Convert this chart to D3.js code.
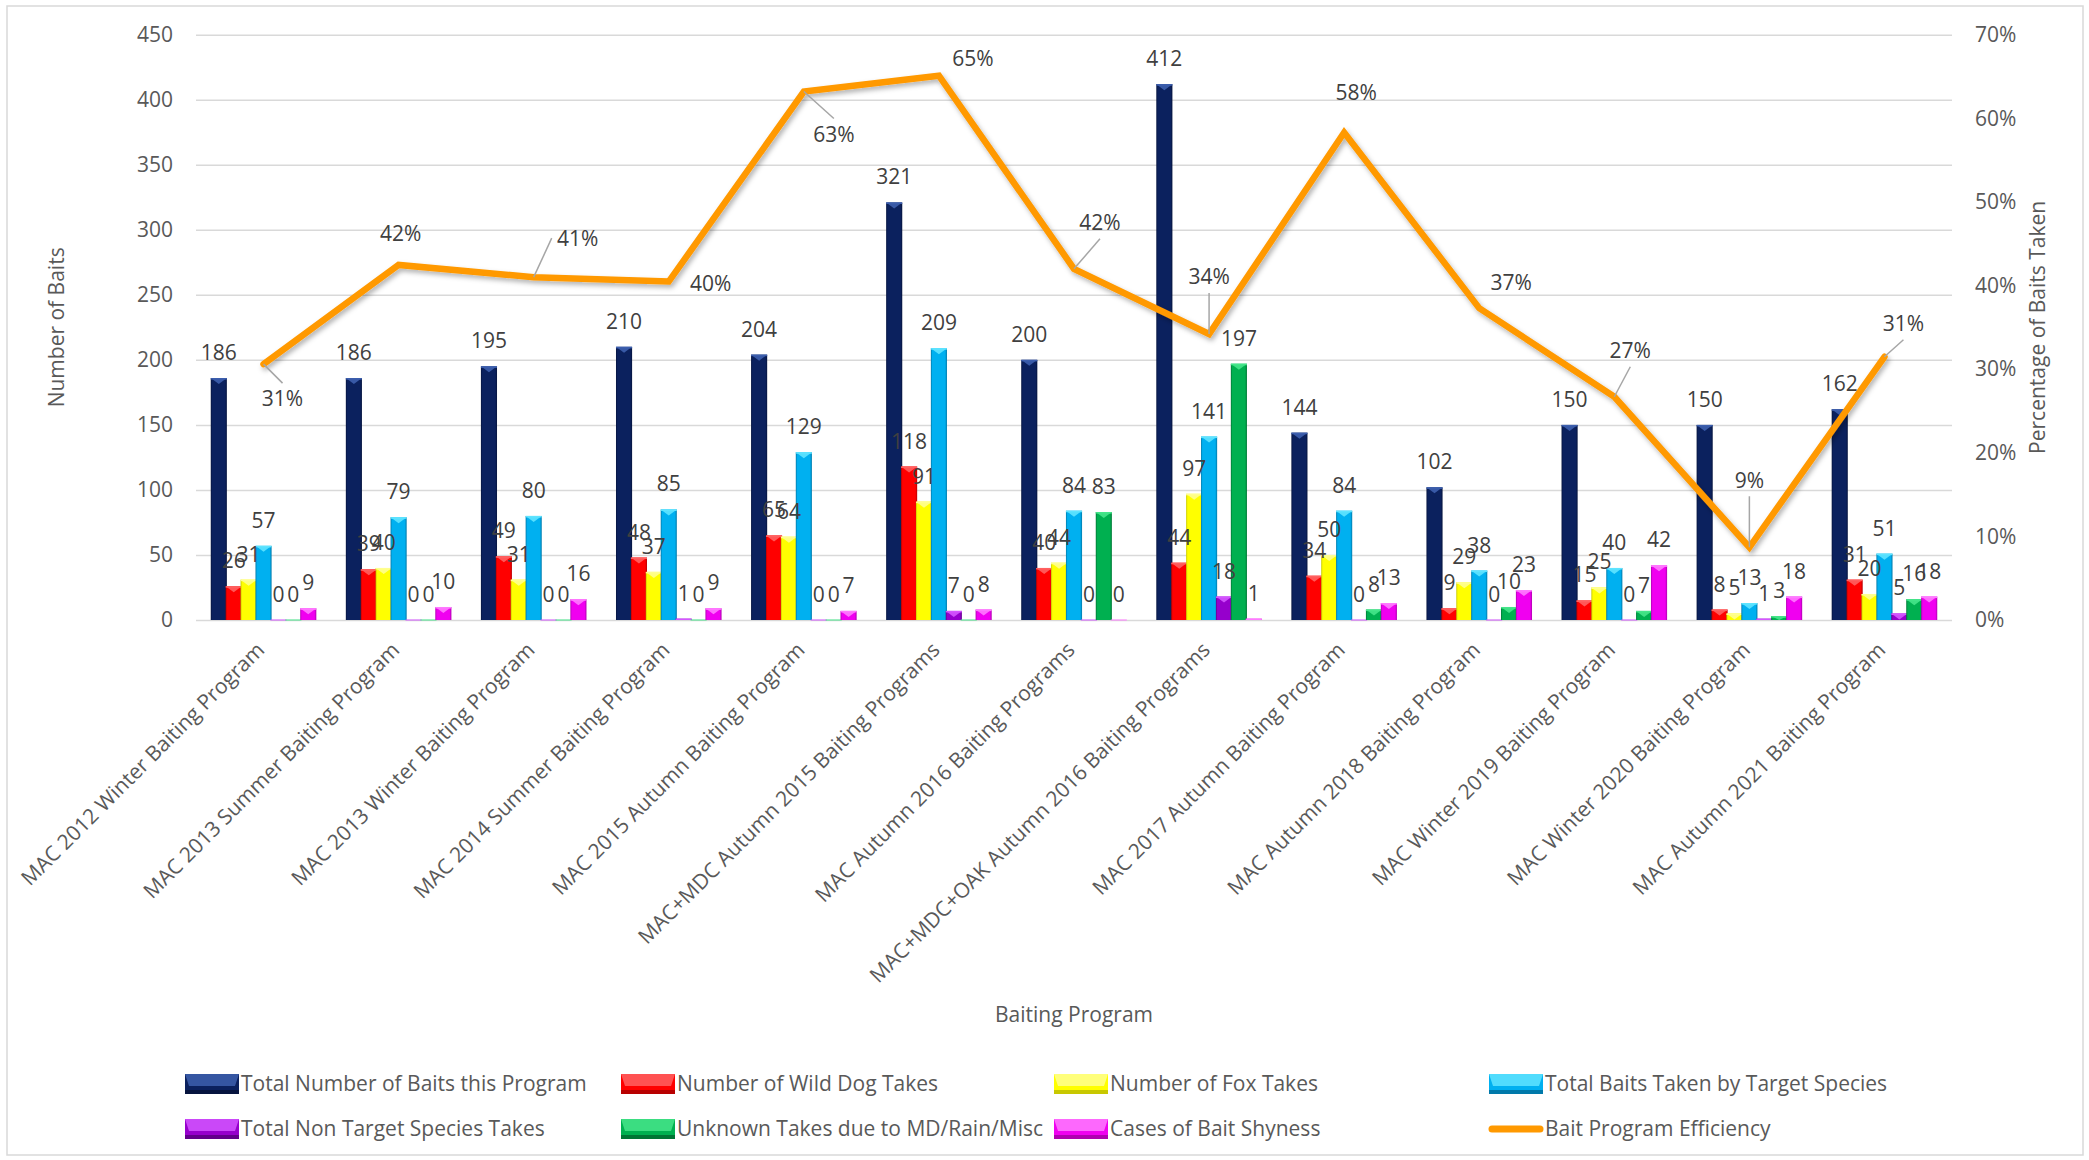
<!DOCTYPE html>
<html>
<head>
<meta charset="utf-8">
<script src="https://cdn.jsdelivr.net/npm/d3@7"></script>
<style>
  html, body { margin: 0; padding: 0; background: #ffffff; }
  svg { display: block; }
  text { font-family: "Open Sans", "Noto Sans", sans-serif; }
</style>
</head>
<body>
<svg id="chart" width="2089" height="1160"></svg>
<script>
// ---------------- DATA ----------------
const categories = [
  "MAC 2012 Winter Baiting Program",
  "MAC 2013 Summer Baiting Program",
  "MAC 2013 Winter Baiting Program",
  "MAC 2014 Summer Baiting Program",
  "MAC 2015 Autumn Baiting Program",
  "MAC+MDC Autumn 2015 Baiting Programs",
  "MAC Autumn 2016 Baiting Programs",
  "MAC+MDC+OAK Autumn 2016 Baiting Programs",
  "MAC 2017 Autumn Baiting Program",
  "MAC Autumn 2018 Baiting Program",
  "MAC Winter 2019 Baiting Program",
  "MAC Winter 2020 Baiting Program",
  "MAC Autumn 2021 Baiting Program"
];
const totalBaits   = [186, 186, 195, 210, 204, 321, 200, 412, 144, 102, 150, 150, 162];
const wildDogTakes = [26, 39, 49, 48, 65, 118, 40, 44, 34, 9, 15, 8, 31];
const foxTakes     = [31, 40, 31, 37, 64, 91, 44, 97, 50, 29, 25, 5, 20];
const targetTaken  = [57, 79, 80, 85, 129, 209, 84, 141, 84, 38, 40, 13, 51];
const nonTarget    = [0, 0, 0, 1, 0, 7, 0, 18, 0, 0, 0, 1, 5];
const unknownTakes = [0, 0, 0, 0, 0, 0, 83, 197, 8, 10, 7, 3, 16];
const baitShyness  = [9, 10, 16, 9, 7, 8, 0, 1, 13, 23, 42, 18, 18];
const efficiency   = [0.306, 0.4247, 0.410, 0.4048, 0.632, 0.651, 0.420, 0.342, 0.583, 0.373, 0.267, 0.087, 0.3148];

const seriesNames = [
  "Total Number of Baits this Program",
  "Number of Wild Dog Takes",
  "Number of Fox Takes",
  "Total Baits Taken by Target Species",
  "Total Non Target Species Takes",
  "Unknown Takes due to MD/Rain/Misc",
  "Cases of Bait Shyness"
];
const lineName = "Bait Program Efficiency";
const leftTicks  = [0, 50, 100, 150, 200, 250, 300, 350, 400, 450];
const rightTicks = [0, 0.1, 0.2, 0.3, 0.4, 0.5, 0.6, 0.7];

// ---------------- STYLE / LAYOUT ----------------
const seriesValues = [totalBaits, wildDogTakes, foxTakes, targetTaken, nonTarget, unknownTakes, baitShyness];
const seriesColors = [
  {base: "#0b215e", light: "#3d5fae", dark: "#06143e"},
  {base: "#ff0000", light: "#ff6060", dark: "#b80000"},
  {base: "#ffff00", light: "#ffff90", dark: "#c8c800"},
  {base: "#00b0f0", light: "#5fe4ff", dark: "#0079aa"},
  {base: "#9600cc", light: "#d455ff", dark: "#62008a"},
  {base: "#00b050", light: "#45e58a", dark: "#007534"},
  {base: "#f000f0", light: "#ff7aff", dark: "#b000b0"}
];
const lineColor = "#ff9900";
// label offsets (from the point) for the efficiency labels, and whether a leader line is drawn
const effLabelOffsets = [[19,35],[2,-31],[44,-39],[42,2],[30,43],[34,-17],[26,-46],[0,-57],[12,-40],[32,-25],[16,-46],[0,-67],[19,-33]];
const effLeaders = [true,false,true,false,true,false,true,true,false,false,true,true,true];

const W = 2089, H = 1160;
const plotL = 196, plotR = 1952, plotT = 34.7, plotB = 620;
const FONT = 21;

const svg = d3.select("#chart");
const defs = svg.append("defs");

// border
svg.append("rect").attr("x", 7).attr("y", 6).attr("width", 2076).attr("height", 1149)
  .attr("fill", "#ffffff").attr("stroke", "#d9d9d9").attr("stroke-width", 1.5);

// gradients
seriesColors.forEach((c, i) => {
  const g = defs.append("linearGradient").attr("id", "barg" + i).attr("x1", "0").attr("x2", "1").attr("y1", "0").attr("y2", "0");
  g.append("stop").attr("offset", "0%").attr("stop-color", c.dark);
  g.append("stop").attr("offset", "10%").attr("stop-color", c.base);
  g.append("stop").attr("offset", "40%").attr("stop-color", c.base);
  g.append("stop").attr("offset", "88%").attr("stop-color", c.base);
  g.append("stop").attr("offset", "100%").attr("stop-color", c.dark);
});
const shadow = defs.append("filter").attr("id", "lineShadow").attr("x", "-5%").attr("y", "-5%").attr("width", "110%").attr("height", "120%");
shadow.append("feDropShadow").attr("dx", 2).attr("dy", 3).attr("stdDeviation", 2.5).attr("flood-color", "#000").attr("flood-opacity", 0.3);

// scales
const x = d3.scaleBand().domain(categories).range([plotL, plotR]).paddingInner(0).paddingOuter(0);
const xs = d3.scaleBand().domain(d3.range(seriesNames.length)).range([0, x.bandwidth()]).paddingInner(0).paddingOuter(1.03);
const y = d3.scaleLinear().domain([0, 450]).range([plotB, plotT]);
const y2 = d3.scaleLinear().domain([0, 0.7]).range([plotB, plotT]);

// left axis with gridlines
const gLeft = svg.append("g").attr("transform", `translate(${plotL},0)`)
  .call(d3.axisLeft(y).tickValues(leftTicks).tickSize(-(plotR - plotL)).tickPadding(23));
gLeft.select(".domain").remove();
gLeft.selectAll(".tick line").attr("stroke", "#d9d9d9").attr("stroke-width", 1.5);
gLeft.selectAll(".tick text").attr("fill", "#595959").style("font-size", FONT + "px").style("font-family", "'Open Sans', sans-serif");

// right axis (labels only)
const gRight = svg.append("g").attr("transform", `translate(${plotR},0)`)
  .call(d3.axisRight(y2).tickValues(rightTicks).tickSize(0).tickPadding(23).tickFormat(d3.format(".0%")));
gRight.select(".domain").remove();
gRight.selectAll(".tick text").attr("fill", "#595959").style("font-size", FONT + "px").style("font-family", "'Open Sans', sans-serif");

// bars
const bw = xs.bandwidth();
const barsG = svg.append("g");
seriesValues.forEach((vals, si) => {
  const c = seriesColors[si];
  vals.forEach((v, ci) => {
    const bx = x(categories[ci]) + xs(si) - 0.6;
    const w = bw + 1.2;
    const top = y(v);
    const h = plotB - top;
    const g = barsG.append("g");
    g.append("rect").attr("x", bx).attr("y", top).attr("width", w).attr("height", Math.max(h, 0))
      .attr("fill", `url(#barg${si})`);
    if (h > 0) {
      const th = Math.min(6, h);
      g.append("polygon")
        .attr("points", `${bx},${top} ${bx + w},${top} ${bx + w / 2},${top + th}`)
        .attr("fill", c.light).attr("opacity", 0.9);
      g.append("rect").attr("x", bx).attr("y", top).attr("width", w).attr("height", Math.min(1.5, h))
        .attr("fill", c.light);
    } else {
      g.append("rect").attr("x", bx).attr("y", plotB - 1).attr("width", w).attr("height", 2)
        .attr("fill", c.light).attr("opacity", 0.5);
    }
  });
});

// bar labels
const labG = svg.append("g");
seriesValues.forEach((vals, si) => {
  vals.forEach((v, ci) => {
    labG.append("text")
      .attr("x", x(categories[ci]) + xs(si) + bw / 2)
      .attr("y", y(v) - 18)
      .attr("text-anchor", "middle")
      .attr("fill", "#404040")
      .style("font-size", FONT + "px")
      .text(v);
  });
});

// efficiency line
const cx = (i) => x(categories[i]) + x.bandwidth() / 2;
const line = d3.line().x((d, i) => cx(i)).y(d => y2(d)).curve(d3.curveLinear);
svg.append("path").datum(efficiency)
  .attr("d", line)
  .attr("fill", "none")
  .attr("stroke", lineColor)
  .attr("stroke-width", 6.5)
  .attr("stroke-linejoin", "miter")
  .attr("stroke-linecap", "round")
  .attr("filter", "url(#lineShadow)");

// efficiency labels + leaders
const effG = svg.append("g");
efficiency.forEach((v, i) => {
  const px = cx(i), py = y2(v);
  const [dx, dy] = effLabelOffsets[i];
  const lx = px + dx, ly = py + dy;
  if (effLeaders[i]) {
    let ex, ey;
    if (Math.abs(dy) > Math.abs(dx)) { ex = lx; ey = dy < 0 ? ly + 16 : ly - 16; }
    else { ex = lx - 26; ey = ly; }
    effG.append("line").attr("x1", px).attr("y1", py).attr("x2", ex).attr("y2", ey)
      .attr("stroke", "#a6a6a6").attr("stroke-width", 1.5);
  }
  effG.append("text").attr("x", lx).attr("y", ly).attr("dy", "0.35em")
    .attr("text-anchor", "middle").attr("fill", "#404040")
    .style("font-size", FONT + "px")
    .text(d3.format(".0%")(v));
});

// category labels (rotated)
const catG = svg.append("g");
categories.forEach((c, i) => {
  const ax = cx(i) - 3, ay = 646;
  catG.append("text")
    .attr("transform", `translate(${ax},${ay}) rotate(-45)`)
    .attr("text-anchor", "end")
    .attr("dy", "0.35em")
    .attr("fill", "#595959")
    .style("font-size", FONT + "px")
    .text(c);
});

// axis titles
svg.append("text").attr("transform", `translate(57,${(plotT + plotB) / 2}) rotate(-90)`)
  .attr("text-anchor", "middle").attr("dy", "0.35em").attr("fill", "#595959")
  .style("font-size", FONT + "px").text("Number of Baits");
svg.append("text").attr("transform", `translate(2038,${(plotT + plotB) / 2}) rotate(-90)`)
  .attr("text-anchor", "middle").attr("dy", "0.35em").attr("fill", "#595959")
  .style("font-size", FONT + "px").text("Percentage of Baits Taken");
svg.append("text").attr("x", 1074).attr("y", 1015).attr("dy", "0.35em")
  .attr("text-anchor", "middle").attr("fill", "#595959")
  .style("font-size", FONT + "px").text("Baiting Program");

// legend
const legendCols = [185, 621, 1054, 1489];
const legendRows = [1084, 1129];
const legendItems = seriesNames.map((n, i) => ({name: n, type: "bar", si: i})).concat([{name: lineName, type: "line"}]);
const legG = svg.append("g");
legendItems.forEach((it, k) => {
  const lx = legendCols[k % 4], ly = legendRows[Math.floor(k / 4)];
  const sw = 54, sh = 20;
  if (it.type === "bar") {
    const c = seriesColors[it.si];
    legG.append("rect").attr("x", lx).attr("y", ly - sh / 2).attr("width", sw).attr("height", sh)
      .attr("fill", c.base);
    legG.append("polygon")
      .attr("points", `${lx},${ly - sh / 2} ${lx + sw},${ly - sh / 2} ${lx + sw - 4},${ly + 2} ${lx + 4},${ly + 2}`)
      .attr("fill", c.light).attr("opacity", 0.85);
    legG.append("rect").attr("x", lx).attr("y", ly + sh / 2 - 4).attr("width", sw).attr("height", 4)
      .attr("fill", c.dark);
  } else {
    legG.append("line").attr("x1", lx + 3).attr("x2", lx + sw - 3).attr("y1", ly).attr("y2", ly)
      .attr("stroke", lineColor).attr("stroke-width", 7).attr("stroke-linecap", "round");
  }
  legG.append("text").attr("x", lx + 56).attr("y", ly).attr("dy", "0.35em")
    .attr("fill", "#595959").style("font-size", FONT + "px").text(it.name);
});
</script>
</body>
</html>
